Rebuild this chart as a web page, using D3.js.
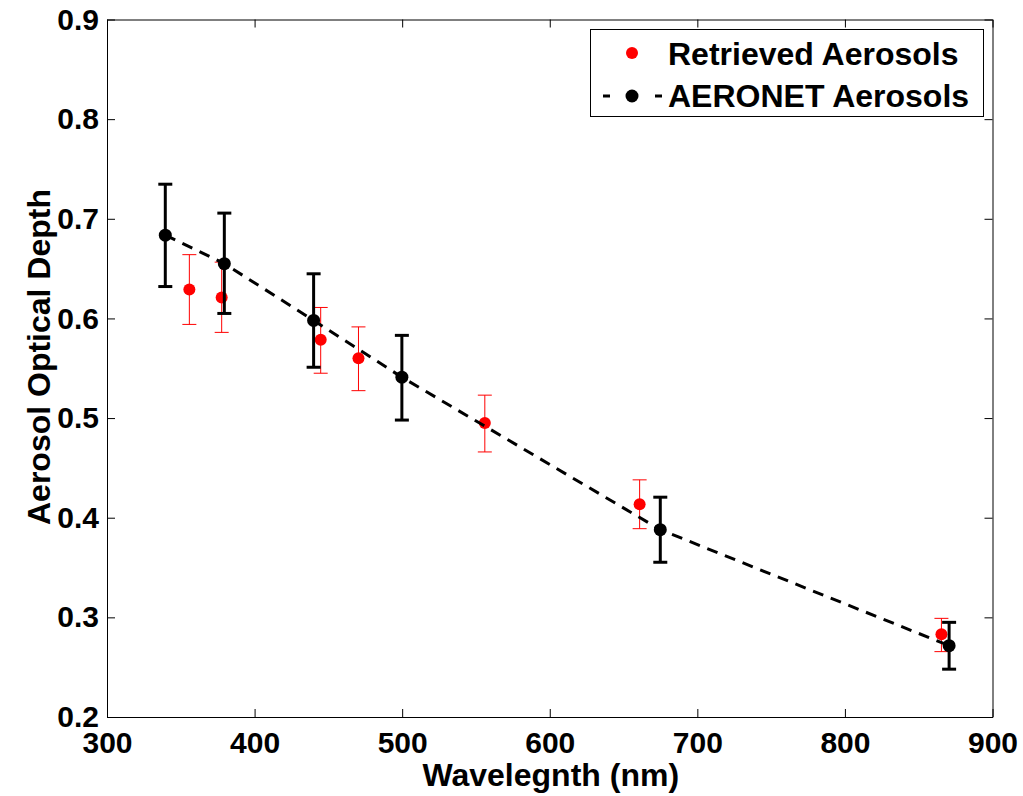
<!DOCTYPE html>
<html>
<head>
  <title>Aerosol Optical Depth</title>
  <script src="https://cdn.jsdelivr.net/npm/d3@7/dist/d3.min.js"></script>
  <style>
    body { margin: 0; background: #fff; }
    svg text {
      font-family: 'Liberation Sans', Arial, sans-serif;
      font-weight: bold;
      fill: #000;
    }
  </style>
</head>
<body>
<svg id="chart" width="1023" height="796"></svg>

<script>
// retrieved aerosols (red)
var retWl = [355.8, 377.7, 444.8, 470.4, 556, 660.9, 865.4];
var retAod = [0.629, 0.621, 0.5785, 0.560, 0.495, 0.4135, 0.283];
var retLo = [0.594, 0.586, 0.545, 0.5275, 0.466, 0.389, 0.2656];
var retHi = [0.664, 0.6565, 0.611, 0.5915, 0.523, 0.438, 0.299];

// AERONET aerosols (black)
var aerWl = [339.5, 379.5, 440, 499.8, 674.9, 870.6];
var aerAod = [0.6836, 0.655, 0.598, 0.541, 0.388, 0.2716];
var aerLo = [0.632, 0.605, 0.551, 0.498, 0.3553, 0.248];
var aerHi = [0.7347, 0.7057, 0.6448, 0.583, 0.4206, 0.295];

var xTicks = [300, 400, 500, 600, 700, 800, 900];
var yTicks = [0.2, 0.3, 0.4, 0.5, 0.6, 0.7, 0.8, 0.9];
var legendLabels = ['Retrieved Aerosols', 'AERONET Aerosols'];

var svg = d3.select('#chart');
// note: "top" is reserved on window, so prefixed names
var pLeft = 107, pRight = 992.5, pTop = 19.5, pBottom = 717;

var x = d3.scaleLinear().domain([300, 900]).range([pLeft, pRight]);
var y = d3.scaleLinear().domain([0.2, 0.9]).range([pBottom, pTop]);

function styleAxis(g, size) {
  g.selectAll('path.domain').attr('stroke', '#000').attr('stroke-width', 1);
  g.selectAll('.tick line').attr('stroke', '#000').attr('stroke-width', 1);
  g.selectAll('.tick text').style('font-size', size + 'px');
}

// box axes, ticks pointing inward
svg.append('g')
  .attr('transform', 'translate(0,' + pBottom + ')')
  .call(d3.axisBottom(x).tickValues(xTicks).tickFormat(d3.format('d'))
    .tickSizeInner(-8).tickSizeOuter(0).tickPadding(14.7))
  .call(styleAxis, 30);

svg.append('g')
  .attr('transform', 'translate(' + pLeft + ',0)')
  .call(d3.axisLeft(y).tickValues(yTicks).tickFormat(d3.format('.1f'))
    .tickSizeInner(-8).tickSizeOuter(0).tickPadding(8))
  .call(styleAxis, 30);

svg.append('g')
  .attr('transform', 'translate(0,' + pTop + ')')
  .call(d3.axisTop(x).tickValues(xTicks).tickFormat('')
    .tickSizeInner(-8).tickSizeOuter(0))
  .call(styleAxis, 30);

svg.append('g')
  .attr('transform', 'translate(' + pRight + ',0)')
  .call(d3.axisRight(y).tickValues(yTicks).tickFormat('')
    .tickSizeInner(-8).tickSizeOuter(0))
  .call(styleAxis, 30);

// axis titles
svg.append('text')
  .attr('x', (pLeft + pRight) / 2 + 1)
  .attr('y', 786)
  .attr('text-anchor', 'middle')
  .style('font-size', '32px')
  .text('Wavelegnth (nm)');

svg.append('text')
  .attr('transform', 'translate(50,' + 357 + ') rotate(-90)')
  .attr('text-anchor', 'middle')
  .style('font-size', '32px')
  .text('Aerosol Optical Depth');

// draws one error bar series
function errorBars(wl, lo, hi, color, width, cap) {
  var g = svg.append('g').attr('stroke', color).attr('stroke-width', width);
  wl.forEach(function(w, i) {
    var cx = x(w);
    g.append('line').attr('x1', cx).attr('x2', cx).attr('y1', y(lo[i])).attr('y2', y(hi[i]));
    g.append('line').attr('x1', cx - cap).attr('x2', cx + cap).attr('y1', y(lo[i])).attr('y2', y(lo[i]));
    g.append('line').attr('x1', cx - cap).attr('x2', cx + cap).attr('y1', y(hi[i])).attr('y2', y(hi[i]));
  });
}

// red series first
errorBars(retWl, retLo, retHi, '#ff0000', 1, 7);
svg.append('g').selectAll('circle')
  .data(retWl)
  .join('circle')
  .attr('cx', function(d) { return x(d); })
  .attr('cy', function(d, i) { return y(retAod[i]); })
  .attr('r', 6)
  .attr('fill', '#ff0000');

// AERONET dashed line
var line = d3.line()
  .x(function(d) { return x(d); })
  .y(function(d, i) { return y(aerAod[i]); });

svg.append('path')
  .datum(aerWl)
  .attr('fill', 'none')
  .attr('stroke', '#000')
  .attr('stroke-width', 3)
  .attr('stroke-dasharray', '11,8')
  .attr('d', line);

errorBars(aerWl, aerLo, aerHi, '#000', 3, 7);
svg.append('g').selectAll('circle')
  .data(aerWl)
  .join('circle')
  .attr('cx', function(d) { return x(d); })
  .attr('cy', function(d, i) { return y(aerAod[i]); })
  .attr('r', 6.5)
  .attr('fill', '#000');

// legend
var lg = svg.append('g');
lg.append('rect')
  .attr('x', 590.5).attr('y', 29.5)
  .attr('width', 393).attr('height', 87)
  .attr('fill', '#fff')
  .attr('stroke', '#000')
  .attr('stroke-width', 1);

lg.append('circle').attr('cx', 632).attr('cy', 53).attr('r', 6).attr('fill', '#ff0000');
lg.append('line')
  .attr('x1', 603).attr('x2', 662).attr('y1', 96).attr('y2', 96)
  .attr('stroke', '#000').attr('stroke-width', 3)
  .attr('stroke-dasharray', '7,45');
lg.append('circle').attr('cx', 632).attr('cy', 96).attr('r', 6.5).attr('fill', '#000');

lg.selectAll('text.lab')
  .data(legendLabels)
  .join('text')
  .attr('class', 'lab')
  .attr('x', 668)
  .attr('y', function(d, i) { return i === 0 ? 65 : 106.5; })
  .style('font-size', '32px')
  .text(function(d) { return d; });
</script>
</body>
</html>
